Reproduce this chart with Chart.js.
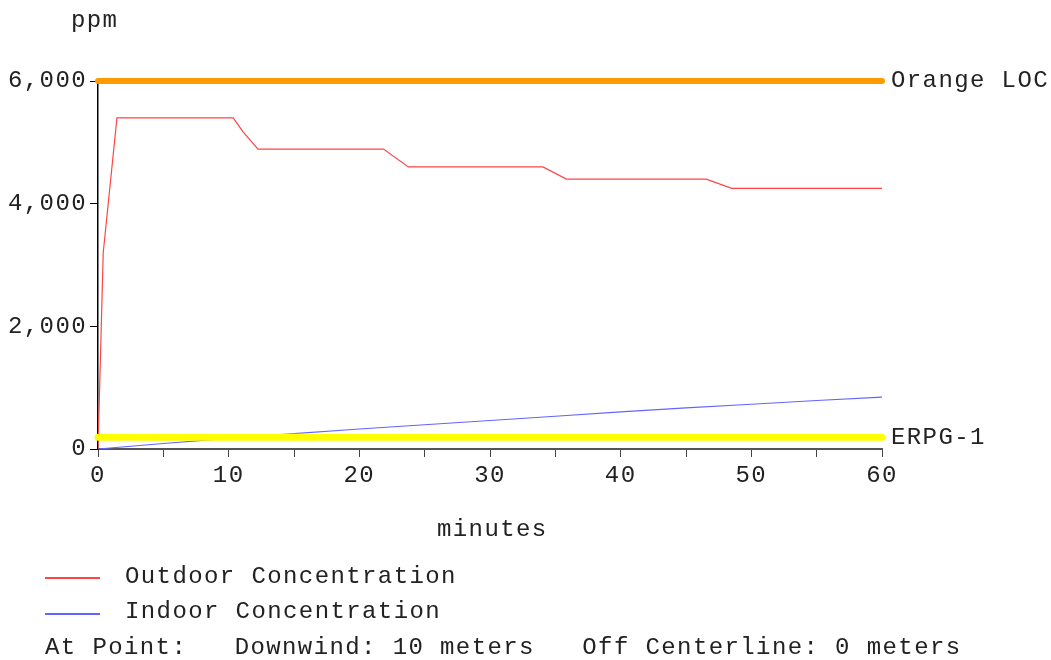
<!DOCTYPE html>
<html>
<head>
<meta charset="utf-8">
<title>Threat at point</title>
<script src="https://cdn.jsdelivr.net/npm/chart.js@4"></script>
<style>
  body { margin: 0; background: #fff; }
  #wrap { position: relative; width: 1051px; height: 660px; }
  #chart { position: absolute; left: 0; top: 0; }
  .txt {
    position: absolute;
    font-family: "Liberation Mono", "Courier New", monospace;
    font-size: 24px;
    line-height: 24px;
    letter-spacing: 1.4px;
    color: #222;
    white-space: pre;
  }
  .key { position: absolute; left: 45px; width: 55px; height: 2px; }
</style>
</head>
<body>
<div id="wrap">
  <canvas id="chart" width="1051" height="660"></canvas>
  <div class="txt" style="left:71px; top:9px;">ppm</div>
  <div class="txt" style="left:437px; top:518px;">minutes</div>
  <div class="key" style="top:577px; background:#ff4444;"></div>
  <div class="txt" style="left:125px; top:565px;">Outdoor Concentration</div>
  <div class="key" style="top:613px; background:#6464ff;"></div>
  <div class="txt" style="left:125px; top:600px;">Indoor Concentration</div>
  <div class="txt" style="left:45px; top:636px;">At Point:   Downwind: 10 meters   Off Centerline: 0 meters</div>
</div>
<script>
// outdoor concentration (ppm) over time (minutes)
const outdoorMinutes = [0, 0.4, 1.45, 10.35, 11.1, 12.25, 21.85, 23.75, 34.05, 35.85, 46.55, 48.5, 60];
const outdoorPpm     = [0, 3200, 5400, 5400, 5170, 4890, 4890, 4600, 4600, 4400, 4400, 4250, 4250];

// indoor concentration (ppm)
const indoorMinutes = [0, 5, 10, 15, 20, 25, 30, 35, 40, 45, 50, 55, 60];
const indoorPpm     = [0, 90, 174, 250, 325, 395, 465, 535, 605, 670, 730, 790, 845];

// levels of concern
const locNames  = ['Orange LOC', 'ERPG-1'];
const locValues = [6000, 190];
const locColors = ['#ff9a00', '#ffff00'];
const locWidths = [6, 7];

const xTicks = [0, 10, 20, 30, 40, 50, 60];
const yTicks = [0, 2000, 4000, 6000];

const FONT = "'Liberation Mono', 'Courier New', monospace";
const SPACING = '1.4px';

function toPoints(xs, ys) {
  return xs.map((x, i) => ({ x: x, y: ys[i] }));
}

const datasets = locValues.map((v, i) => ({
  label: locNames[i],
  data: [{ x: 0, y: v }, { x: 60, y: v }],
  borderColor: locColors[i],
  borderWidth: locWidths[i],
  borderCapStyle: 'round',
  pointRadius: 0,
  clip: false,
  isLoc: true
}));

datasets.push({
  label: 'Outdoor Concentration',
  data: toPoints(outdoorMinutes, outdoorPpm),
  borderColor: '#ff4444',
  borderWidth: 1.2,
  pointRadius: 0,
  tension: 0
});
datasets.push({
  label: 'Indoor Concentration',
  data: toPoints(indoorMinutes, indoorPpm),
  borderColor: '#6464ff',
  borderWidth: 1.1,
  pointRadius: 0,
  tension: 0
});

// mono text looks wider in this chart, so spread the letters a bit
const spacingPlugin = {
  id: 'spacing',
  beforeDraw(chart) {
    chart.ctx.letterSpacing = SPACING;
  }
};

// names of the concern levels at the right end of their lines
const locLabels = {
  id: 'locLabels',
  afterDatasetsDraw(chart) {
    const ctx = chart.ctx;
    ctx.save();
    ctx.font = '24px ' + FONT;
    ctx.letterSpacing = SPACING;
    ctx.fillStyle = '#222';
    ctx.textAlign = 'left';
    ctx.textBaseline = 'middle';
    chart.data.datasets.forEach((ds, i) => {
      if (!ds.isLoc) return;
      const pts = chart.getDatasetMeta(i).data;
      const last = pts[pts.length - 1];
      ctx.fillText(ds.label, last.x + 9, last.y);
    });
    ctx.restore();
  }
};

new Chart(document.getElementById('chart'), {
  type: 'line',
  data: { datasets: datasets },
  plugins: [spacingPlugin, locLabels],
  options: {
    responsive: false,
    animation: false,
    devicePixelRatio: 1,
    layout: { padding: { left: 0, right: 169, top: 81, bottom: 171 } },
    plugins: { legend: { display: false }, tooltip: { enabled: false } },
    scales: {
      x: {
        type: 'linear',
        min: 0,
        max: 60,
        afterFit(scale) { scale.height = 40; },
        ticks: {
          stepSize: 5,
          padding: 4,
          color: '#222',
          font: { family: FONT, size: 24 },
          callback: v => (xTicks.includes(v) ? String(v) : '')
        },
        grid: { drawOnChartArea: false, tickLength: 8, color: '#555', tickColor: '#444' },
        border: { color: '#555', width: 2 }
      },
      y: {
        min: 0,
        max: 6000,
        afterFit(scale) { scale.width = 98; },
        afterBuildTicks(scale) { scale.ticks = yTicks.map(v => ({ value: v })); },
        ticks: {
          padding: 3,
          color: '#222',
          font: { family: FONT, size: 24 },
          callback: v => v.toLocaleString('en-US')
        },
        grid: { drawOnChartArea: false, tickLength: 8, color: '#000', tickColor: '#000' },
        border: { color: '#000', width: 1.5 }
      }
    }
  }
});
</script>
</body>
</html>
